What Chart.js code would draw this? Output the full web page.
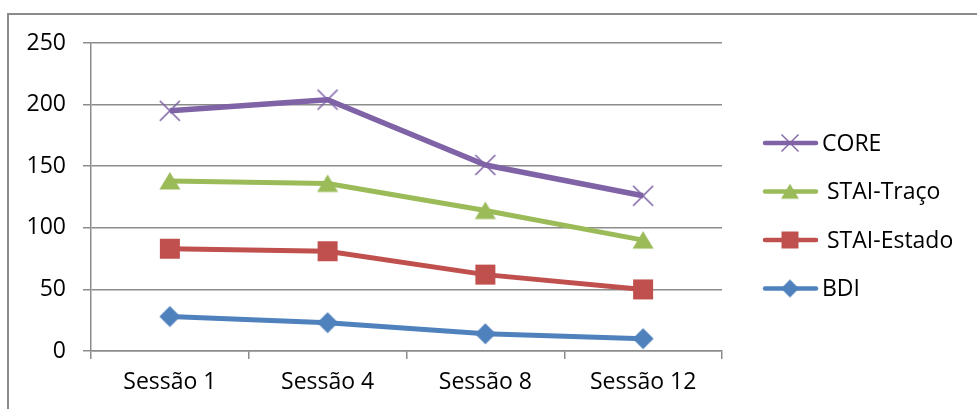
<!DOCTYPE html>
<html>
<head>
<meta charset="utf-8">
<script src="https://cdn.jsdelivr.net/npm/chart.js@4/dist/chart.umd.min.js"></script>
<style>
  html, body { margin: 0; padding: 0; background: #fff; }
  #grafic { display: block; }
</style>
</head>
<body>
<canvas id="grafic" width="977" height="409"></canvas>
<script>
/* Evolução das escalas ao longo das sessões */

const sessoes = ['Sessão 1', 'Sessão 4', 'Sessão 8', 'Sessão 12'];
const valoresCORE = [195, 204, 151, 126];
const valoresTraco = [138, 136, 114, 90];
const valoresEstado = [83, 81, 62, 50];
const valoresBDI = [28, 23, 14, 10];
const nomesSeries = ['CORE', 'STAI-Traço', 'STAI-Estado', 'BDI'];
const ticksY = [0, 50, 100, 150, 200, 250];

const COR = {
  core:   '#7f63a6',
  traco:  '#9bbb59',
  estado: '#c0504d',
  bdi:    '#4f81bd',
  grelha: '#8c8c8c',
};
const FONT = 'Open Sans';

// marcadores desenhados num canvas pequeno (centrados como no Excel)
function marcador(tipo, cor, esc) {
  const s = esc || 1;
  const c = document.createElement('canvas');
  c.width = 26; c.height = 26;
  const g = c.getContext('2d');
  g.translate(13, 13);
  g.scale(s, s);
  g.fillStyle = cor;
  g.strokeStyle = cor;
  g.beginPath();
  if (tipo === 'x') {
    g.lineWidth = 1.6;
    g.moveTo(-10, -10); g.lineTo(10, 10);
    g.moveTo(-10, 10); g.lineTo(10, -10);
    g.stroke();
  } else if (tipo === 'tri') {
    g.moveTo(0, -9); g.lineTo(10.5, 8.5); g.lineTo(-10.5, 8.5);
    g.closePath(); g.fill();
  } else if (tipo === 'quad') {
    g.rect(-10, -10, 20, 20); g.fill();
  } else {
    g.moveTo(0, -10.5); g.lineTo(10.5, 0); g.lineTo(0, 10.5); g.lineTo(-10.5, 0);
    g.closePath(); g.fill();
  }
  return c;
}

const series = [
  { nome: nomesSeries[0], dados: valoresCORE,   cor: COR.core,   tipo: 'x',    gruix: 5.5 },
  { nome: nomesSeries[1], dados: valoresTraco,  cor: COR.traco,  tipo: 'tri',  gruix: 5 },
  { nome: nomesSeries[2], dados: valoresEstado, cor: COR.estado, tipo: 'quad', gruix: 5 },
  { nome: nomesSeries[3], dados: valoresBDI,    cor: COR.bdi,    tipo: 'diam', gruix: 5 },
];

const datasets = series.map(s => ({
  label: s.nome,
  data: s.dados,
  borderColor: s.cor,
  backgroundColor: s.cor,
  borderWidth: s.gruix,
  borderJoinStyle: 'round',
  tension: 0,
  pointStyle: marcador(s.tipo, s.cor),
  pointRadius: 10,
  pointHoverRadius: 10,
  _legendaMarcador: marcador(s.tipo, s.cor, 0.85),
}));

const molduraExterior = {
  id: 'moldura',
  beforeDraw(chart) {
    const { ctx } = chart;
    ctx.save();
    ctx.fillStyle = '#fff';
    ctx.fillRect(0, 0, chart.width, chart.height);
    ctx.strokeStyle = COR.grelha;
    ctx.lineWidth = 2;
    ctx.beginPath();
    ctx.moveTo(8, chart.height);
    ctx.lineTo(8, 14);
    ctx.lineTo(chart.width, 14);
    ctx.stroke();
    ctx.restore();
  }
};

// legenda à direita, com linha + marcador como no Excel
const legendaExcel = {
  id: 'legendaExcel',
  afterDraw(chart) {
    const { ctx } = chart;
    const y0 = 143, passo = 48.5;
    ctx.save();
    ctx.font = `23px "${FONT}"`;
    ctx.textBaseline = 'middle';
    ctx.textAlign = 'left';
    chart.data.datasets.forEach((ds, i) => {
      const y = y0 + i * passo;
      ctx.strokeStyle = ds.borderColor;
      ctx.lineWidth = 4.5;
      ctx.lineCap = 'round';
      ctx.beginPath();
      ctx.moveTo(765, y);
      ctx.lineTo(816, y);
      ctx.stroke();
      const m = ds._legendaMarcador;
      ctx.drawImage(m, 790 - m.width / 2, y - m.height / 2);
      ctx.fillStyle = '#000';
      const xt = ds.label.startsWith('STAI') ? 827 : 822;
      ctx.fillText(ds.label, xt, y + 1);
    });
    ctx.restore();
  }
};

new Chart(document.getElementById('grafic'), {
  type: 'line',
  data: { labels: sessoes, datasets },
  options: {
    animation: false,
    responsive: false,
    layout: { padding: { left: 0, right: 255, top: 43, bottom: 0 } },
    plugins: {
      legend: { display: false },
      tooltip: { enabled: false },
    },
    scales: {
      x: {
        offset: true,
        grid: {
          offset: true,
          drawOnChartArea: false,
          drawTicks: true,
          tickLength: 8,
          color: COR.grelha,
          lineWidth: 1.5,
        },
        border: { color: COR.grelha, width: 1.5 },
        ticks: { color: '#000', padding: 10, font: { family: FONT, size: 23 } },
        afterFit: s => { s.height = 58; },
      },
      y: {
        min: 0,
        max: 250,
        afterBuildTicks: s => { s.ticks = ticksY.map(v => ({ value: v })); },
        grid: {
          color: COR.grelha,
          lineWidth: 1.5,
          drawTicks: true,
          tickLength: 8,
        },
        border: { color: COR.grelha, width: 1.5 },
        ticks: { color: '#000', padding: 17, font: { family: FONT, size: 23 } },
        afterFit: s => { s.width = 91; },
      }
    }
  },
  plugins: [molduraExterior, legendaExcel]
});
</script>
</body>
</html>
